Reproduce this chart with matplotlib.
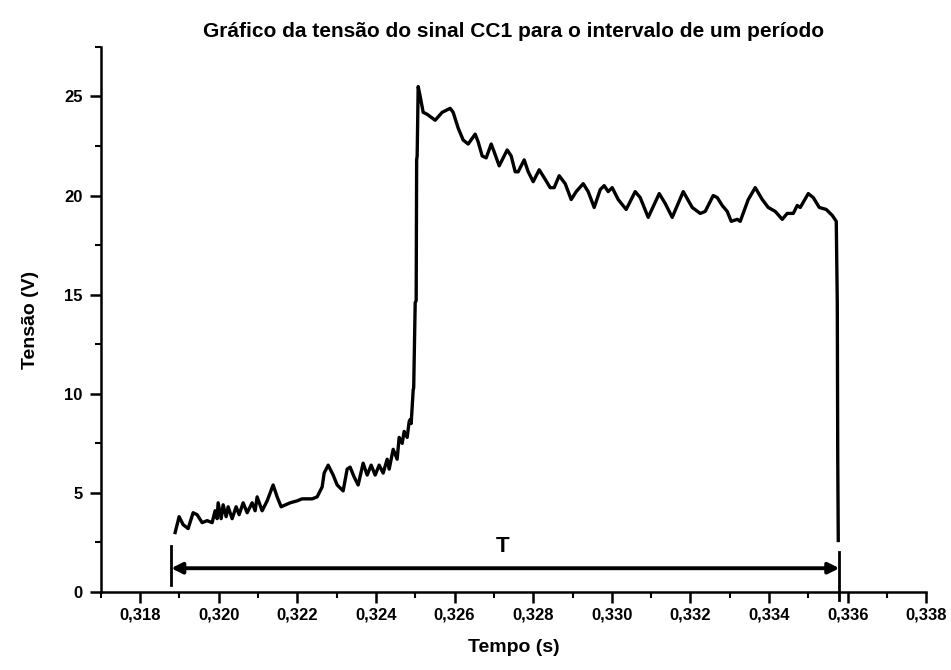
"""
Tensão do sinal CC1 ao longo de um período.
"""

import matplotlib
matplotlib.use("Agg")
import matplotlib.pyplot as plt
from matplotlib.ticker import FuncFormatter, MultipleLocator

plt.rcParams['font.family'] = ['Liberation Sans', 'DejaVu Sans']
plt.rcParams['font.weight'] = 'bold'

# tempo em ms (convertido para s ao desenhar) e tensão em V
tempo_ms = [
    318.891, 318.916, 318.992, 319.094, 319.221, 319.349, 319.450, 319.578,
    319.705, 319.832, 319.908, 319.959, 319.985, 320.061, 320.112, 320.188,
    320.239, 320.341, 320.443, 320.519, 320.621, 320.723, 320.850, 320.926,
    320.977, 321.104, 321.232, 321.384, 321.486, 321.588, 321.817, 321.995,
    322.122, 322.249, 322.377, 322.504, 322.631, 322.682, 322.784, 322.911,
    323.013, 323.165, 323.267, 323.343, 323.445, 323.547, 323.674, 323.776,
    323.878, 323.980, 324.081, 324.183, 324.285, 324.336, 324.438, 324.539,
    324.590, 324.667, 324.717, 324.794, 324.845, 324.870, 324.896, 324.947,
    324.960, 324.998, 325.023, 325.035, 325.048, 325.074, 325.125, 325.201,
    325.303, 325.506, 325.684, 325.888, 325.964, 326.092, 326.219, 326.346,
    326.524, 326.601, 326.702, 326.804, 326.931, 327.008, 327.135, 327.338,
    327.440, 327.542, 327.618, 327.771, 327.873, 328.000, 328.153, 328.280,
    328.432, 328.534, 328.661, 328.814, 328.967, 329.094, 329.272, 329.399,
    329.552, 329.705, 329.806, 329.908, 330.010, 330.163, 330.366, 330.595,
    330.722, 330.926, 331.206, 331.359, 331.537, 331.817, 332.046, 332.249,
    332.376, 332.580, 332.682, 332.809, 332.936, 333.038, 333.191, 333.267,
    333.471, 333.649, 333.827, 333.980, 334.158, 334.336, 334.463, 334.616,
    334.717, 334.794, 334.998, 335.125, 335.278, 335.456, 335.608, 335.710,
    335.736, 335.748, 335.761,
]
tensao_v = [
    3.0, 3.2, 3.8, 3.4, 3.2, 4.0, 3.9, 3.5,
    3.6, 3.5, 4.1, 3.7, 4.5, 3.7, 4.4, 3.8,
    4.3, 3.7, 4.3, 3.9, 4.5, 4.0, 4.5, 4.1,
    4.8, 4.1, 4.6, 5.4, 4.8, 4.3, 4.5, 4.6,
    4.7, 4.7, 4.7, 4.8, 5.3, 6.0, 6.4, 5.9,
    5.4, 5.1, 6.2, 6.3, 5.8, 5.4, 6.5, 5.9,
    6.4, 5.9, 6.4, 6.0, 6.7, 6.2, 7.2, 6.7,
    7.8, 7.5, 8.1, 7.8, 8.6, 8.7, 8.5, 10.2,
    10.3, 14.6, 14.7, 21.8, 22.0, 25.5, 25.0, 24.2,
    24.1, 23.8, 24.2, 24.4, 24.2, 23.4, 22.8, 22.6,
    23.1, 22.7, 22.0, 21.9, 22.6, 22.2, 21.5, 22.3,
    22.0, 21.2, 21.2, 21.8, 21.2, 20.7, 21.3, 20.9,
    20.4, 20.4, 21.0, 20.6, 19.8, 20.2, 20.6, 20.2,
    19.4, 20.3, 20.5, 20.2, 20.4, 19.8, 19.3, 20.2,
    19.9, 18.9, 20.1, 19.6, 18.9, 20.2, 19.4, 19.1,
    19.2, 20.0, 19.9, 19.5, 19.2, 18.7, 18.8, 18.7,
    19.8, 20.4, 19.8, 19.4, 19.2, 18.8, 19.1, 19.1,
    19.5, 19.4, 20.1, 19.9, 19.4, 19.3, 19.0, 18.7,
    14.6, 6.7, 2.6,
]

# marcas do período T (s) e altura da seta (V)
inicio_periodo = 0.31879
fim_periodo = 0.33579
altura_seta = 1.2

tempo_s = [t / 1000 for t in tempo_ms]

fig = plt.figure(figsize=(9.51, 6.7), dpi=100)
ax = fig.add_axes([0.106, 0.1164, 0.868, 0.8136])

ax.plot(tempo_s, tensao_v, color='black', lw=2.4, solid_joinstyle='round')

# linhas verticais que delimitam o período
ax.plot([inicio_periodo, inicio_periodo], [0.35, 2.3], color='black', lw=2)
ax.plot([fim_periodo, fim_periodo], [-0.4, 2.0], color='black', lw=2, clip_on=False)
ax.annotate('', xy=(fim_periodo, altura_seta), xytext=(inicio_periodo, altura_seta),
            arrowprops=dict(arrowstyle='<|-|>', color='black', lw=2.8,
                            mutation_scale=16, shrinkA=0, shrinkB=0))
ax.text(0.32721, 2.3, 'T', fontsize=16, fontweight='bold', ha='center', va='center')

ax.set_xlim(0.317, 0.338)
ax.set_ylim(0, 27.5)

ax.xaxis.set_major_locator(MultipleLocator(0.002))
ax.xaxis.set_minor_locator(MultipleLocator(0.001))
ax.yaxis.set_major_locator(MultipleLocator(5))
ax.yaxis.set_minor_locator(MultipleLocator(2.5))
ax.xaxis.set_major_formatter(FuncFormatter(lambda v, p: f"{v:.3f}".replace('.', ',')))
ax.yaxis.set_major_formatter(FuncFormatter(lambda v, p: f"{v:.0f}"))

for side in ['top', 'right']:
    ax.spines[side].set_visible(False)
for side in ['left', 'bottom']:
    ax.spines[side].set_linewidth(1.8)

ax.tick_params(which='major', direction='out', length=8, width=1.8, labelsize=12, pad=5)
ax.tick_params(axis='x', which='major', pad=3)
ax.tick_params(which='minor', direction='out', length=4.5, width=1.5)

ax.set_title('Gráfico da tensão do sinal CC1 para o intervalo de um período',
             fontsize=15, fontweight='bold', pad=7)
ax.set_xlabel('Tempo (s)', fontsize=14, fontweight='bold', labelpad=12)
ax.set_ylabel('Tensão (V)', fontsize=14, fontweight='bold', labelpad=18)

fig.savefig('out.png', dpi=100)
plt.close(fig)
